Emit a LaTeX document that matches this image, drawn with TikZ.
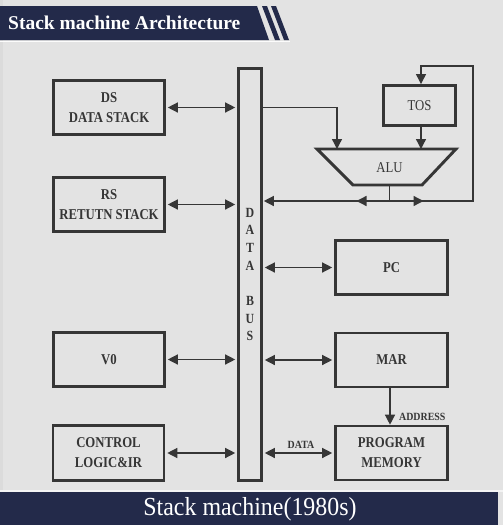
\documentclass[tikz,border=0pt]{standalone}
\usepackage{fontspec}
\setmainfont{Liberation Serif}
\usetikzlibrary{arrows.meta,calc}
\definecolor{navy}{HTML}{232A4A}
\definecolor{bg}{HTML}{E3E3E3}
\definecolor{ink}{HTML}{363636}
\newcommand\sq[1]{\scalebox{0.85}[1]{#1}}
\begin{document}
\begin{tikzpicture}[x=1pt,y=-1pt,
  box/.style={draw=ink, line width=2.6pt, inner sep=0pt, minimum width=111pt, minimum height=54pt,
    align=center, font=\fontsize{15}{20}\selectfont\bfseries, text=ink},
  tip/.style={Triangle[length=10pt,width=10pt]},
  conn/.style={draw=ink, line width=1.3pt},
  dbl/.style={conn, {Triangle[length=10pt,width=10pt]}-{Triangle[length=10pt,width=10pt]}, shorten <=2pt, shorten >=2pt},
  one/.style={conn, -{Triangle[length=10pt,width=10pt]}},
  lbl/.style={font=\fontsize{11}{12}\selectfont\bfseries, text=ink, inner sep=0pt}
]
% background
\useasboundingbox (0,0) rectangle (503,525);
\fill[bg] (0,0) rectangle (503,525);
\fill[black!14] (0,0) rectangle (3,492);
% title banner
\fill[navy] (0,6) -- (257,6) -- (269,40) -- (0,40) -- cycle;
\fill[navy] (262,6) -- (267,6) -- (280,40) -- (275,40) -- cycle;
\fill[navy] (271,6) -- (276,6) -- (289,40) -- (284,40) -- cycle;
\fill[white!90!bg] (0,40.5) rectangle (290,42);
\node[anchor=west, text=white, font=\fontsize{19.5}{22}\selectfont\bfseries, inner sep=0pt] (title) at (8,23) {Stack machine Architecture};
% bottom banner
\fill[white!60!bg] (0,489.5) rectangle (503,492);
\fill[navy] (0,492) rectangle (498,525);
\node[text=white, font=\fontsize{26}{28}\selectfont, inner sep=0pt] (caption) at (250,509) {\scalebox{0.92}[1]{Stack machine(1980s)}};

% left boxes
\node[box] (ds) at (109,107.5) {\sq{DS}\\\sq{DATA STACK}};
\node[box] (rs) at (109,204.5) {\sq{RS}\\\sq{RETUTN STACK}};
\node[box] (v0) at (109,359.5) {\sq{V0}};
\node[box, minimum height=55pt] (ctl) at (108.5,453) {\sq{CONTROL}\\\sq{LOGIC\&IR}};
% data bus
\node[box, minimum width=23pt, minimum height=412pt, font=\fontsize{14}{17.7}\selectfont\bfseries] (bus) at (250,274.5)
  {\sq{D}\\\sq{A}\\\sq{T}\\\sq{A}\\\mbox{}\\\sq{B}\\\sq{U}\\\sq{S}};
% right boxes
\node[box, minimum width=112pt] (pc) at (391.5,267.5) {\sq{PC}};
\node[box, minimum width=112pt] (mar) at (391.5,360) {\sq{MAR}};
\node[box, minimum width=112pt] (pm) at (391.5,453) {\sq{PROGRAM}\\\sq{MEMORY}};
\node[box, minimum width=72pt, minimum height=40pt, line width=2.9pt, font=\fontsize{15}{20}\selectfont] (tos) at (419.5,105.5) {\sq{TOS}};
% ALU
\draw[ink, line width=2.9pt, line join=miter] (317,149) -- (456,149) -- (422,185) -- (353,185) -- cycle;
\node[font=\fontsize{15}{20}\selectfont, text=ink, inner sep=0pt] (alu) at (389.5,168) {\sq{ALU}};
\coordinate (aluL) at (337,149);
\coordinate (aluB) at (389.5,185);
\coordinate (fb) at (389.5,201);
\coordinate (fbR) at (473,201);
\coordinate (fbT) at (473,66);

% left connectors
\draw[dbl] (ds.east) -- (ds.east -| bus.west);
\draw[dbl] (rs.east) -- (rs.east -| bus.west);
\draw[dbl] (v0.east) -- (v0.east -| bus.west);
\draw[dbl] (ctl.east) -- (ctl.east -| bus.west);
% right connectors
\draw[dbl] (bus.east |- pc.west) -- (pc.west);
\draw[dbl] (bus.east |- mar.west) -- (mar.west);
\draw[dbl] (bus.east |- pm.west) -- (pm.west);
\node[lbl] (datalbl) at (301,445) {\scalebox{0.9}[1]{DATA}};
\draw[one] (mar.south -| 390,0) -- (pm.north -| 390,0);
\node[lbl, anchor=west] (addrlbl) at (399,417) {\scalebox{0.9}[1]{ADDRESS}};
% ALU inputs
\draw[one] (bus.east |- ds.east) -| (aluL);
\draw[one] (tos.south -| 421,0) -- (421,149);
% ALU output / feedback
\draw[conn] (aluB) -- (fb);
\draw[one, shorten >=1pt] (fb) -- (bus.east |- fb);
\draw[one] (fb) -- ++(-33,0);
\draw[one] (fb) -- ++(34,0);
\draw[one] (fb) -- (fbR) -- (fbT) -- (fbT -| 421,0) -- (tos.north -| 421,0);
\end{tikzpicture}
\end{document}
